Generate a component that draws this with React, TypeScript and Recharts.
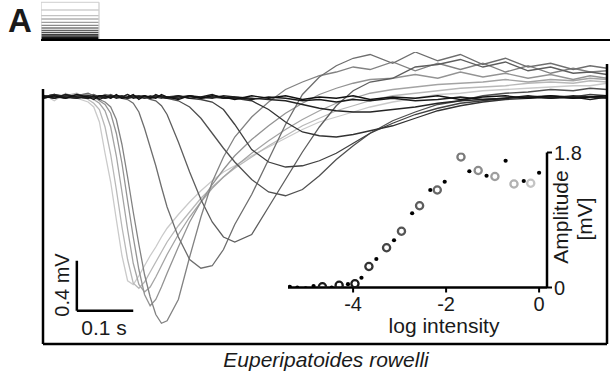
import React from 'react';
import { LineChart, Line, XAxis, YAxis, ReferenceLine, ScatterChart, Scatter } from 'recharts';

const FONT = "'Liberation Sans', Arial, Helvetica, sans-serif";

// time after flash onset (s)
const TIME_S = [0, 0.02, 0.04, 0.06, 0.08, 0.09, 0.1, 0.11, 0.12, 0.13, 0.14, 0.15, 0.16, 0.17, 0.18, 0.19, 0.2, 0.21, 0.22, 0.24, 0.26, 0.28, 0.3, 0.32, 0.34, 0.37, 0.4, 0.43, 0.46, 0.49, 0.52, 0.55, 0.58, 0.62, 0.66, 0.7, 0.74, 0.78, 0.82, 0.86, 0.9, 0.94, 0.97, 1];

// ERG traces (mV), brightest flash first
const TRACE_L1 = [0.02, -0.03, 0.03, -0.01, -0.04, -0.08, -0.2, -0.45, -0.68, -0.98, -1.27, -1.47, -1.5, -1.43, -1.35, -1.27, -1.2, -1.12, -1.05, -0.94, -0.84, -0.75, -0.67, -0.6, -0.55, -0.47, -0.4, -0.33, -0.26, -0.2, -0.16, -0.12, -0.08, -0.04, -0.01, 0.02, 0.03, 0.05, 0.06, 0.07, 0.08, 0.09, 0.09, 0.11];
const TRACE_L2 = [0, 0.02, 0.01, 0.03, -0.02, -0.05, -0.1, -0.24, -0.46, -0.74, -1.04, -1.3, -1.49, -1.53, -1.48, -1.4, -1.32, -1.24, -1.16, -1.03, -0.92, -0.81, -0.72, -0.64, -0.57, -0.48, -0.39, -0.31, -0.23, -0.17, -0.11, -0.07, -0.03, 0.01, 0.03, 0.05, 0.07, 0.08, 0.09, 0.11, 0.12, 0.11, 0.13, 0.12];
const TRACE_L3 = [0.01, -0.01, 0.02, 0, 0.02, -0.02, -0.05, -0.11, -0.24, -0.47, -0.76, -1.06, -1.33, -1.5, -1.56, -1.52, -1.44, -1.35, -1.26, -1.1, -0.96, -0.84, -0.73, -0.64, -0.56, -0.45, -0.35, -0.26, -0.18, -0.11, -0.05, -0.01, 0.03, 0.06, 0.08, 0.1, 0.11, 0.12, 0.14, 0.12, 0.14, 0.13, 0.15, 0.14];
const TRACE_L4 = [0, 0.02, 0, 0.02, -0.01, 0, -0.03, -0.06, -0.13, -0.29, -0.53, -0.83, -1.12, -1.38, -1.58, -1.67, -1.62, -1.52, -1.41, -1.2, -1, -0.84, -0.7, -0.58, -0.47, -0.34, -0.23, -0.13, -0.05, 0.02, 0.07, 0.11, 0.14, 0.15, 0.18, 0.15, 0.2, 0.16, 0.19, 0.15, 0.18, 0.14, 0.17, 0.15];
const TRACE_L5 = [0.01, 0, -0.01, 0.02, 0.01, 0, -0.02, -0.04, -0.08, -0.18, -0.38, -0.64, -0.92, -1.18, -1.42, -1.6, -1.74, -1.81, -1.79, -1.62, -1.28, -0.96, -0.68, -0.48, -0.32, -0.16, -0.04, 0.06, 0.12, 0.17, 0.2, 0.24, 0.22, 0.28, 0.21, 0.27, 0.22, 0.27, 0.2, 0.25, 0.19, 0.23, 0.2, 0.21];
const TRACE_M1 = [0, 0.02, -0.01, 0.01, 0.03, 0.01, 0, 0.02, 0.01, 0, -0.01, -0.02, -0.05, -0.12, -0.25, -0.4, -0.55, -0.72, -0.88, -1.12, -1.3, -1.37, -1.35, -1.22, -1.02, -0.78, -0.5, -0.22, 0.02, 0.16, 0.25, 0.31, 0.34, 0.27, 0.36, 0.29, 0.34, 0.26, 0.31, 0.24, 0.27, 0.22, 0.25, 0.23];
const TRACE_M2 = [0.01, -0.01, 0.02, 0, 0.01, 0.02, 0, 0.01, -0.01, 0.01, 0, 0.02, 0, -0.01, 0, -0.02, -0.03, -0.07, -0.14, -0.36, -0.6, -0.82, -1, -1.12, -1.16, -1.1, -0.88, -0.66, -0.44, -0.24, -0.07, 0.05, 0.12, 0.15, 0.24, 0.26, 0.3, 0.24, 0.28, 0.21, 0.24, 0.19, 0.2, 0.18];
const TRACE_D1 = [0, 0.01, -0.01, 0.01, 0, -0.01, 0.01, 0, 0.02, 0, 0.01, -0.01, 0, 0.01, 0, -0.01, 0.01, 0, -0.01, -0.03, -0.08, -0.17, -0.29, -0.41, -0.52, -0.66, -0.76, -0.79, -0.74, -0.63, -0.5, -0.39, -0.29, -0.19, -0.12, -0.06, -0.03, 0.01, 0.03, 0.04, 0.06, 0.05, 0.07, 0.06];
const TRACE_D2 = [-0.01, 0.01, 0, -0.01, 0.01, 0, -0.01, 0.01, 0, 0.01, -0.01, 0, 0.01, 0, -0.01, 0.01, 0, -0.01, 0, 0.01, -0.01, -0.02, -0.04, -0.1, -0.22, -0.42, -0.52, -0.56, -0.55, -0.51, -0.45, -0.37, -0.29, -0.21, -0.14, -0.09, -0.05, -0.03, -0.01, 0, 0.01, 0, 0.02, 0.01];
const TRACE_D3 = [0.01, -0.01, 0.01, 0, -0.01, 0.01, 0, -0.01, 0.01, 0, 0.01, -0.01, 0, 0.01, -0.01, 0, 0.01, 0, -0.01, 0, 0.01, -0.01, 0, -0.01, -0.01, -0.03, -0.1, -0.2, -0.28, -0.31, -0.32, -0.3, -0.27, -0.23, -0.17, -0.11, -0.07, -0.04, -0.02, -0.01, 0, -0.01, 0, 0.01];
const TRACE_D4 = [0, 0.02, 0, -0.01, 0.01, 0, 0.01, -0.01, 0, 0.01, 0, -0.01, 0.01, 0, 0.01, -0.01, 0, 0.01, 0, -0.01, 0.01, 0, -0.01, 0.01, 0, -0.01, -0.02, -0.03, -0.06, -0.09, -0.11, -0.12, -0.12, -0.1, -0.08, -0.05, -0.03, -0.02, -0.01, 0, -0.01, 0.01, 0, -0.01];
const TRACE_D5 = [0.01, -0.01, 0.02, 0, -0.01, 0.01, -0.02, 0, 0.01, -0.01, 0, 0.02, -0.01, 0, 0.01, -0.01, 0.02, 0, -0.01, 0.01, -0.01, 0, 0.02, -0.01, 0, -0.02, 0, -0.01, -0.03, -0.02, -0.04, -0.02, -0.03, -0.01, -0.03, -0.02, 0, -0.02, -0.01, 0.01, -0.01, 0, -0.02, 0];
const TRACE_D6 = [-0.01, 0.01, -0.01, 0.02, 0, -0.02, 0.01, 0.01, -0.01, 0.02, -0.01, 0, 0.02, -0.02, 0.01, 0, -0.01, 0.02, 0, -0.02, 0.01, -0.01, 0.01, 0, -0.02, 0.01, -0.01, 0.01, -0.02, 0, -0.01, 0.01, -0.02, 0, -0.01, 0.01, -0.02, 0, 0.01, -0.01, 0.01, -0.01, 0, 0.01];

const TRACES = [TRACE_L1, TRACE_L2, TRACE_L3, TRACE_L4, TRACE_L5, TRACE_M1, TRACE_M2, TRACE_D1, TRACE_D2, TRACE_D3, TRACE_D4, TRACE_D5, TRACE_D6];
const TRACE_COLORS = ['#cacaca', '#b8b8b8', '#a4a4a4', '#939393', '#828282', '#6e6e6e', '#5e5e5e', '#505050', '#404040', '#323232', '#242424', '#1a1a1a', '#101010'];

// stimulus staircase icon (relative heights, top = brightest)
const STIM_HEIGHTS = [37.7, 30, 24.3, 21, 17.7, 14.7, 12, 9.7, 7.7, 5.7, 4, 2.7, 1.3];
const STIM_COLORS = ['#d8d8d8', '#cfcfcf', '#c2c2c2', '#b0b0b0', '#9e9e9e', '#8a8a8a', '#767676', '#626262', '#4e4e4e', '#3c3c3c', '#2a2a2a', '#1a1a1a', '#0c0c0c'];
const STIM_SPAN = [0, 1];
const STIM_AXIS_END = 9.81;

// intensity-response (log intensity, amplitude mV)
const DOT_LOGI = [-5.36, -5.2, -5.02, -4.85, -4.46, -4.11, -3.82, -3.5, -3.12, -2.73, -2.34, -2.03, -1.5, -1.13, -0.72, -0.33, 0];
const DOT_AMP = [0.01, 0, -0.01, 0.02, 0, 0.045, 0.13, 0.38, 0.63, 0.99, 1.3, 1.41, 1.55, 1.49, 1.69, 1.42, 1.53];
const RING_LOGI = [-4.66, -4.3, -3.96, -3.66, -3.28, -2.96, -2.57, -2.19, -1.68, -1.31, -0.95, -0.54, -0.18];
const RING_AMP = [0.01, 0.03, 0.05, 0.28, 0.53, 0.75, 1.09, 1.3, 1.74, 1.56, 1.48, 1.38, 1.39];
const RING_COLORS = ['#1a1a1a', '#1a1a1a', '#1a1a1a', '#333333', '#444444', '#555555', '#5c5c5c', '#666666', '#7a7a7a', '#8c8c8c', '#9e9e9e', '#b2b2b2', '#c4c4c4'];
const LOGI_TICKS = [-4, -2, 0];
const AMP_TICKS = [0, 1.8];

const traceRows = TIME_S.map((t, i) => {
  const row: Record<string, number> = { t };
  TRACES.forEach((tr, k) => { row['s' + k] = tr[i]; });
  return row;
});
const dotRows = DOT_LOGI.map((x, i) => ({ x, y: DOT_AMP[i] }));
const ringRows = RING_LOGI.map((x, i) => ({ x, y: RING_AMP[i], k: i }));
const stimRows: Record<string, number>[] = STIM_SPAN.map((x) => {
  const row: Record<string, number> = { x, base: 0 };
  STIM_HEIGHTS.forEach((h, i) => { row['l' + i] = h; });
  return row;
});
stimRows.push({ x: STIM_AXIS_END, base: 0 });

const abs = (l: number, t: number): React.CSSProperties => ({ position: 'absolute', left: l, top: t });

const DotShape = (p: any) => <circle cx={p.cx} cy={p.cy} r={2.1} fill="#000" />;
const RingShape = (p: any) => (
  <circle cx={p.cx} cy={p.cy} r={3.6} fill="none" stroke={RING_COLORS[p.payload.k]} strokeWidth={2.3} />
);

export default function App() {
  const tickStyle = { fill: '#1a1a1a', fontSize: 20, fontFamily: FONT };
  return (
    <div style={{ position: 'absolute', left: 0, top: 0, width: 610, height: 379, background: '#fff', overflow: 'hidden' }}>
      {/* stimulus icon */}
      <div style={abs(41, 0)}>
        <LineChart width={569} height={42} data={stimRows} margin={{ top: 2, right: 0, bottom: 2, left: 0 }}>
          <XAxis type="number" dataKey="x" domain={[0, STIM_AXIS_END]} hide />
          <YAxis type="number" domain={[0, 38]} hide />
          {STIM_HEIGHTS.map((h, i) => (
            <Line key={i} type="linear" dataKey={'l' + i} stroke={STIM_COLORS[i]} strokeWidth={1.3} dot={false} isAnimationActive={false} />
          ))}
          <ReferenceLine segment={[{ x: 0, y: 0 }, { x: 0, y: 37.7 }]} stroke="#d0d0d0" strokeWidth={1.3} />
          <ReferenceLine segment={[{ x: 1, y: 0 }, { x: 1, y: 37.7 }]} stroke="#d0d0d0" strokeWidth={1.3} />
          <Line type="linear" dataKey="base" stroke="#000" strokeWidth={2} dot={false} isAnimationActive={false} />
        </LineChart>
      </div>

      {/* ERG traces */}
      <div style={abs(0, 0)}>
        <LineChart width={610} height={379} data={traceRows} margin={{ top: 52, right: 3, bottom: 32, left: 43 }}>
          <XAxis type="number" dataKey="t" domain={[0, 1]} hide />
          <YAxis type="number" domain={[-2, 0.36]} hide allowDataOverflow />
          {TRACES.map((_, k) => (
            <Line key={k} type="linear" dataKey={'s' + k} stroke={TRACE_COLORS[k]} strokeWidth={1.3} dot={false} isAnimationActive={false} />
          ))}
          <ReferenceLine segment={[{ x: 0, y: -1.976 }, { x: 0, y: 0.064 }]} stroke="#000" strokeWidth={2.5} />
          <ReferenceLine segment={[{ x: 1, y: -1.976 }, { x: 1, y: 0.264 }]} stroke="#000" strokeWidth={2.5} />
          <ReferenceLine segment={[{ x: 0, y: -1.976 }, { x: 1, y: -1.976 }]} stroke="#000" strokeWidth={2.5} />
          <ReferenceLine segment={[{ x: 0.06, y: -1.71 }, { x: 0.06, y: -1.31 }]} stroke="#000" strokeWidth={2.5} />
          <ReferenceLine segment={[{ x: 0.06, y: -1.71 }, { x: 0.16, y: -1.71 }]} stroke="#000" strokeWidth={2.5} />
        </LineChart>
      </div>

      {/* intensity-response inset */}
      <div style={abs(0, 0)}>
        <ScatterChart width={610} height={379} margin={{ top: 152.5, right: 3, bottom: 61.5, left: 288 }}>
          <XAxis type="number" dataKey="x" domain={[-5.4, 0.17]} ticks={LOGI_TICKS} interval={0} allowDataOverflow
            axisLine={{ stroke: '#000', strokeWidth: 2.5 }} tickLine={{ stroke: '#000', strokeWidth: 2 }}
            tickSize={5} tickMargin={4} height={30} tick={tickStyle} />
          <YAxis type="number" dataKey="y" orientation="right" domain={[0, 1.8]} ticks={AMP_TICKS} interval={0} allowDataOverflow
            axisLine={{ stroke: '#000', strokeWidth: 2.5 }} tickLine={{ stroke: '#000', strokeWidth: 2 }}
            tickSize={5} tickMargin={2} width={60} tick={tickStyle} />
          <Scatter data={dotRows} shape={DotShape} isAnimationActive={false} />
          <Scatter data={ringRows} shape={RingShape} isAnimationActive={false} />
        </ScatterChart>
      </div>

      {/* annotations */}
      <svg width={610} height={379} style={{ ...abs(0, 0), pointerEvents: 'none' }} fontFamily={FONT} fill="#1a1a1a">
        <text x={8} y={32} fontSize={33} fontWeight="bold">A</text>
        <text transform="translate(61.5,285) rotate(-90)" textAnchor="middle" dominantBaseline="central" fontSize={20}>0.4 mV</text>
        <text x={104} y={335} textAnchor="middle" fontSize={21}>0.1 s</text>
        <text x={444} y={333} textAnchor="middle" fontSize={21}>log intensity</text>
        <text transform="translate(568,217) rotate(-90)" textAnchor="middle" fontSize={21}>Amplitude</text>
        <text transform="translate(592,219) rotate(-90)" textAnchor="middle" fontSize={21}>[mV]</text>
        <text x={326} y={367} textAnchor="middle" fontSize={21} fontStyle="italic">Euperipatoides rowelli</text>
      </svg>
    </div>
  );
}
